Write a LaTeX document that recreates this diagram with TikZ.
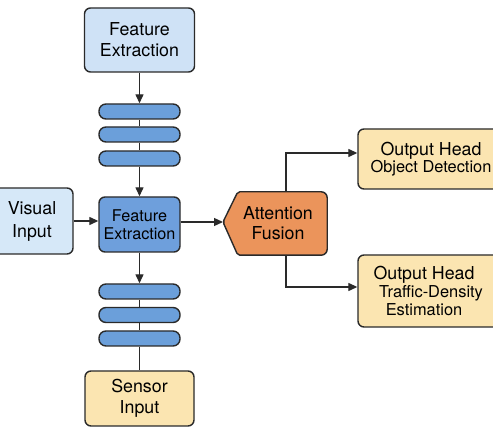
\documentclass[tikz,border=0pt]{standalone}
\usepackage{fontspec}
\setmainfont{TeX Gyre Heros}
\usetikzlibrary{arrows.meta,calc,backgrounds}
\definecolor{edge}{HTML}{2A2A2A}
\definecolor{lblue}{HTML}{CFE2F6}
\definecolor{vblue}{HTML}{D6E8F8}
\definecolor{pillblue}{HTML}{6B9FDA}
\definecolor{midblue}{HTML}{6E9FDC}
\definecolor{attorange}{HTML}{EB945B}
\definecolor{paleyellow}{HTML}{FBE5B1}
\newcommand{\rsh}[1]{\hspace*{#1pt}}
\begin{document}
\begin{tikzpicture}[x=1pt,y=-1pt,
  box/.style={draw=edge, line width=1.4pt, rounded corners=6pt, inner sep=0pt, align=center},
  pill/.style={draw=edge, fill=pillblue, line width=1.4pt, rounded corners=7pt, minimum width=81pt, minimum height=15pt, inner sep=0pt},
  conn/.style={draw=edge, line width=1.3pt},
  arr/.style={conn, -{Triangle[length=9pt,width=8pt]}},
  big/.style={font=\fontsize{17.8}{21}\selectfont},
  mid/.style={font=\fontsize{16.2}{18}\selectfont}]
\clip (0,0) rectangle (493,430);
% top column
\node[box, fill=lblue, minimum width=110pt, minimum height=64pt, big] (fe1) at (139.5,40) {Feature\\Extraction};
\node[pill] (p1) at (139.5,111.5) {};
\node[pill] (p2) at (139.5,134.5) {};
\node[pill] (p3) at (139.5,158.5) {};
\node[box, fill=midblue, minimum width=81pt, minimum height=55pt, mid] (fe2) at (139.5,224.5) {Feature\\Extraction};
\node[box, fill=vblue, minimum width=82pt, minimum height=66pt, font=\fontsize{17.8}{23}\selectfont] (vis) at (32,221) {Visual\\Input};
\node[pill] (p4) at (139.5,291.5) {};
\node[pill] (p5) at (139.5,315) {};
\node[pill] (p6) at (139.5,338.5) {};
\node[box, fill=paleyellow, minimum width=109pt, minimum height=55pt, big] (sen) at (139.5,398.5) {Sensor\\Input};
% attention
\node[inner sep=0pt, minimum width=89pt, minimum height=63pt, align=center, font=\fontsize{17.8}{20}\selectfont] (att) at (282.5,223.5) {Attention\rsh{9}\\Fusion\rsh{9}};
\coordinate (attip) at (223,222);
\begin{pgfonlayer}{background}
\fill[white] (0,0) rectangle (493,430);
\draw[edge, fill=attorange, line width=1.4pt] (attip) [rounded corners=2pt] -- (att.north west) [rounded corners=6pt] -- (att.north east) -- (att.south east) [rounded corners=2pt] -- (att.south west) -- cycle;
\end{pgfonlayer}
\coordinate (attn) at (286,192);
\coordinate (atts) at (286,255);
% outputs
\node[box, fill=paleyellow, minimum width=146pt, minimum height=60pt] (out1) at (431,159) {{\fontsize{17.8}{20}\selectfont Output Head}\\{\fontsize{16.4}{20}\selectfont Object Detection}};
\node[box, fill=paleyellow, minimum width=146pt, minimum height=72pt, font=\fontsize{16.4}{18}\selectfont] (out2) at (431,291) {{\fontsize{17.8}{18}\selectfont Output Head}\rsh{14}\\Traffic-Density\rsh{14}\\Estimation\rsh{14}};
% connectors
\draw[arr] (fe1.south) -- (p1.north);
\draw[conn] (p1.south) -- (p2.north);
\draw[conn] (p2.south) -- (p3.north);
\draw[arr] (p3.south) -- (fe2.north);
\draw[arr] (vis.east) -- (vis.east -| fe2.west);
\draw[arr] (fe2.south) -- (p4.north);
\draw[conn] (p4.south) -- (p5.north);
\draw[conn] (p5.south) -- (p6.north);
\draw[conn] (p6.south) -- (sen.north);
\draw[arr] (fe2.east |- attip) -- (attip);
\draw[arr] (attn) |- ($(out1.west)+(0,-6)$);
\draw[arr] (atts) |- ($(out2.west)+(0,-4)$);
\end{tikzpicture}
\end{document}
